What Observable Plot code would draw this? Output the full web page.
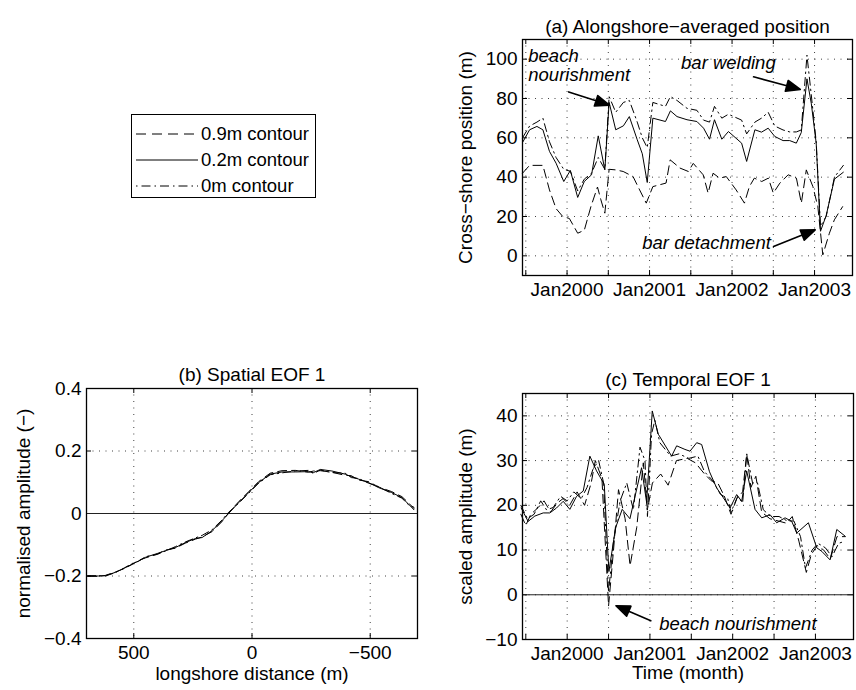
<!DOCTYPE html>
<html><head><meta charset="utf-8">
<script src="https://cdn.jsdelivr.net/npm/d3@7"></script>
<script src="https://cdn.jsdelivr.net/npm/@observablehq/plot@0.6"></script>
<style>
body{margin:0;background:#fff;}
#wrap{position:relative;width:856px;height:690px;overflow:hidden;font-family:"Liberation Sans",Arial,Helvetica,sans-serif;background:#fff;}
.panel{position:absolute;}
#legend{position:absolute;left:131px;top:114px;width:185px;height:84px;border:1.2px solid #000;box-sizing:border-box;background:#fff;}
.lrow{position:absolute;left:0;height:24px;display:flex;align-items:center;font-size:18.5px;color:#000;}
</style></head><body><div id="wrap"></div>
<script>
// ---------------- data ----------------
const seriesNames = ["0.9m contour", "0.2m contour", "0m contour"];
const seriesDash = ["9,5", null, "8,4,1.5,4"];

// (a) alongshore-averaged position: time (decimal year) and cross-shore position (m)
const a02T = [1999.46,1999.546,1999.635,1999.707,1999.787,1999.867,1999.960,2000.040,2000.129,2000.209,2000.297,2000.378,2000.458,2000.510,2000.590,2000.683,2000.755,2000.851,2000.912,2000.972,2001.040,2001.193,2001.253,2001.333,2001.454,2001.574,2001.655,2001.727,2001.787,2001.876,2001.956,2002.116,2002.177,2002.277,2002.357,2002.438,2002.518,2002.618,2002.699,2002.779,2002.839,2002.908,2002.960,2003.020,2003.072,2003.141,2003.241,2003.349];
const a02V = [57.6,64.1,65.8,64.1,53.1,47.1,37.8,43.4,29.7,37.8,41.2,61.0,43.7,78.0,64.1,66.1,70.8,59.0,51.9,37.3,70.0,68.3,73.7,70.8,69.2,68.3,64.9,59.3,69.2,59.3,63.2,57.3,48.0,64.1,62.9,64.9,60.7,58.6,58.6,57.3,62.7,90.0,77.6,57.3,12.5,20.5,39.0,42.5];
const a09T = [1999.46,1999.546,1999.707,1999.787,1999.867,1999.948,2000.028,2000.129,2000.209,2000.289,2000.369,2000.410,2000.458,2000.510,2000.590,2000.680,2000.800,2000.880,2000.960,2001.040,2001.200,2001.250,2001.370,2001.470,2001.530,2001.650,2001.710,2001.770,2001.850,2001.930,2002.050,2002.150,2002.210,2002.270,2002.360,2002.440,2002.500,2002.580,2002.680,2002.780,2002.840,2002.900,2002.980,2003.040,2003.100,2003.180,2003.240,2003.340];
const a09V = [42,46,46,33.5,24,20,19,11.5,13,25,35,28.5,21.7,44,43.7,42.9,40.3,33.5,26.8,35.2,37,48.8,44.6,42.9,47,41.2,31.9,42,39.5,40.3,33.5,26.8,35.2,39.5,37.8,39.5,31.9,37,41.2,39.5,26.8,43.7,35.2,25,0.5,11.5,18.3,25];
const a00T = [1999.46,1999.546,1999.635,1999.707,1999.787,1999.867,1999.960,2000.040,2000.129,2000.209,2000.297,2000.378,2000.458,2000.510,2000.590,2000.683,2000.755,2000.851,2000.912,2000.972,2001.040,2001.193,2001.253,2001.333,2001.454,2001.574,2001.655,2001.727,2001.787,2001.876,2001.956,2002.116,2002.177,2002.277,2002.357,2002.438,2002.518,2002.618,2002.699,2002.779,2002.839,2002.908,2002.960,2003.020,2003.072,2003.141,2003.241,2003.349];
const a00V = [60,66,68,70,58,50,44,43,33,39,42,50,44,81,73,78,79,68,60,55,78,76,81,79,75,74,69,68,76,70,72,69,62,68,70,73,66,64,63,63,64,102,82,58,15,20,40,46];

// (b) spatial EOF 1: longshore distance (m) and normalised amplitude
const b02X = [695,650,620,577,540,507,480,450,401,366,324,282,239,211,169,127,99,56,14,-28,-77,-127,-183,-239,-260,-289,-338,-394,-420,-451,-493,-535,-591,-634,-662,-685];
const b02V = [-0.200,-0.200,-0.199,-0.188,-0.175,-0.162,-0.152,-0.140,-0.128,-0.119,-0.109,-0.093,-0.080,-0.077,-0.055,-0.023,0.000,0.035,0.067,0.099,0.126,0.133,0.133,0.134,0.131,0.141,0.136,0.126,0.118,0.110,0.099,0.083,0.067,0.051,0.030,0.012];
const b09V = [-0.201,-0.201,-0.198,-0.187,-0.176,-0.163,-0.150,-0.142,-0.130,-0.117,-0.111,-0.095,-0.082,-0.075,-0.058,-0.026,0.002,0.038,0.070,0.102,0.129,0.137,0.138,0.132,0.136,0.137,0.132,0.122,0.121,0.107,0.102,0.085,0.070,0.054,0.034,0.016];
const b00V = [-0.199,-0.199,-0.200,-0.189,-0.174,-0.160,-0.153,-0.138,-0.131,-0.120,-0.106,-0.091,-0.078,-0.070,-0.052,-0.021,0.004,0.033,0.065,0.097,0.124,0.130,0.136,0.138,0.128,0.139,0.131,0.129,0.115,0.112,0.097,0.086,0.064,0.049,0.028,0.020];

// (c) temporal EOF 1: time (decimal year) and scaled amplitude (m)
const c02T = [1999.444,1999.528,1999.609,1999.710,1999.790,1999.871,1999.952,2000.032,2000.113,2000.194,2000.274,2000.355,2000.448,2000.504,2000.585,2000.665,2000.758,2000.899,2000.960,2001.028,2001.101,2001.262,2001.323,2001.423,2001.484,2001.565,2001.625,2001.720,2001.806,2001.887,2001.968,2002.048,2002.109,2002.169,2002.270,2002.351,2002.452,2002.532,2002.633,2002.714,2002.774,2002.915,2003.016,2003.077,2003.177,2003.258,2003.359];
const c02V = [19.4,16.4,17.6,18.3,18.3,19.4,20.9,19.1,22.0,23.2,31.0,27.7,24.7,5.2,15.0,19.1,17.0,28.4,20.6,41.1,35.9,31.0,33.3,32.5,32.1,34.0,33.6,27.5,23.9,21.7,19.4,22.4,20.9,27.7,19.1,17.2,17.9,16.1,17.2,16.4,13.8,16.1,10.5,9.7,7.8,14.6,13.1];
const c09T = [1999.44,1999.50,1999.56,1999.65,1999.72,1999.80,1999.88,1999.95,2000.03,2000.12,2000.21,2000.29,2000.34,2000.42,2000.50,2000.56,2000.62,2000.70,2000.76,2000.84,2000.92,2000.97,2001.03,2001.13,2001.22,2001.32,2001.45,2001.55,2001.66,2001.74,2001.82,2001.90,2001.98,2002.05,2002.12,2002.17,2002.22,2002.28,2002.35,2002.45,2002.55,2002.65,2002.72,2002.80,2002.89,2002.95,2003.02,2003.10,2003.18,2003.26,2003.36];
const c09V = [18,15.5,18,19.5,21,18.5,20.5,21.5,20,23,20,25,30,26,-2.5,10,23.5,17,6.5,15,29.5,19,25,27,24.5,30,30.5,29.5,27,25.5,25,22,18,21.5,23,31.5,24,26.5,18.5,17,16.5,16,17.5,12,5,9,11,10,8,13,13];
const c00T = [1999.44,1999.52,1999.60,1999.68,1999.75,1999.83,1999.92,2000.00,2000.08,2000.17,2000.24,2000.31,2000.38,2000.44,2000.50,2000.56,2000.64,2000.72,2000.80,2000.88,2000.94,2000.97,2001.02,2001.06,2001.12,2001.25,2001.35,2001.47,2001.58,2001.66,2001.76,2001.85,2001.94,2001.98,2002.06,2002.12,2002.17,2002.24,2002.30,2002.37,2002.46,2002.56,2002.66,2002.74,2002.82,2002.88,2002.96,2003.03,2003.12,2003.20,2003.28,2003.36];
const c00V = [20,17,18,21,19,19.5,22,21,23,21.5,24,28,30,25,0.5,12,21,25,19,33,30,17.5,36,39,34,31,31.5,30.5,31,27.5,25.5,22.5,21.5,18.5,22,20.5,31.5,25,25,19,17.5,17.5,16.5,16.5,13,6,10,11.5,10.5,8.5,11.5,12];

// axes ticks
const yearTicks = [2000, 2001, 2002, 2003];
const halfYearGrid = [1999.5, 2000, 2000.5, 2001, 2001.5, 2002, 2002.5, 2003];
const aYTicks = [0, 20, 40, 60, 80, 100];
const bXTicks = [500, 0, -500];
const bYTicks = [-0.4, -0.2, 0, 0.2, 0.4];
const cYTicks = [-10, 0, 10, 20, 30, 40];

// annotations
const aNotes = [
  {t: 1999.53, v: 101.7, text: "beach"},
  {t: 1999.53, v: 91.8, text: "nourishment"},
  {t: 2001.382, v: 98.2, text: "bar welding"},
  {t: 2000.912, v: 6.3, text: "bar detachment"}
];
const aArrows = [
  {t: 2000.513, v: 76.6, len: 42.8, rot: 108.1},
  {t: 2002.827, v: 84.6, len: 48.4, rot: 105.1},
  {t: 2003.008, v: 13.2, len: 44.9, rot: 68.2}
];
const cNotes = [{t: 2001.112, v: -6.55, text: "beach nourishment"}];
const cArrows = [{t: 2000.589, v: -2.44, len: 38, rot: -66.8}];

// ---------------- drawing ----------------
const FONT = '"Liberation Sans", Arial, Helvetica, sans-serif';
const fmtNum = d => d < 0 ? "\u2212" + Math.abs(d) : String(d);
const zip = (xs, ys) => xs.map((x, i) => ({x, y: ys[i]}));

const arrowShape = {
  draw(ctx, l) {
    const h = 14, w = 5.5;
    ctx.moveTo(0, 0); ctx.lineTo(0, -l + h);
    ctx.moveTo(0, -l); ctx.lineTo(-w, -l + h); ctx.lineTo(w, -l + h); ctx.closePath();
  }
};

function seriesMarks(list) {
  return list.map((data, i) => Plot.line(data, {
    x: "x", y: "y", stroke: "#000", strokeWidth: 1,
    strokeDasharray: seriesDash[i] || undefined
  }));
}

function arrowMarks(list) {
  return list.map(a => Plot.vector([a], {
    x: "t", y: "v", length: a.len, rotate: a.rot, anchor: "end",
    shape: arrowShape, stroke: "#000", fill: "#000", strokeWidth: 1.6
  }));
}

function panel(o) {
  const fw = o.width - o.ml - o.mr, fh = o.height - o.mt - o.mb;
  const gridStyle = {stroke: "#000", strokeOpacity: 0.75, strokeWidth: 1, strokeDasharray: "1,5.5"};
  const marks = [
    Plot.gridX(o.xGrid, gridStyle),
    Plot.gridY(o.yTicks, gridStyle),
    Plot.tickX(o.xGrid, {x: d => d, insetTop: fh - 5, stroke: "#000"}),
    Plot.tickX(o.xGrid, {x: d => d, insetBottom: fh - 5, stroke: "#000"}),
    Plot.tickY(o.yTicks, {y: d => d, insetRight: fw - 5, stroke: "#000"}),
    Plot.tickY(o.yTicks, {y: d => d, insetLeft: fw - 5, stroke: "#000"}),
    ...(o.zeroLine ? [Plot.ruleY([0], {stroke: "#222", strokeWidth: 1})] : []),
    ...seriesMarks(o.series),
    ...(o.notes ? [Plot.text(o.notes, {x: "t", y: "v", text: "text", textAnchor: "start", fontStyle: "italic", fontSize: 18.5, fill: "#000"})] : []),
    ...(o.arrows ? arrowMarks(o.arrows) : []),
    Plot.axisX({ticks: o.xTicks, tickSize: 0, tickPadding: 7, tickFormat: o.xFormat, label: null, fontSize: 19}),
    Plot.axisY({ticks: o.yTicks, tickSize: 0, tickPadding: 5, tickFormat: fmtNum, label: null, fontSize: 19}),
    Plot.frame({stroke: "#000", strokeWidth: 1.3}),
    Plot.text([o.title], {frameAnchor: "top", dy: o.titleDy, fontSize: 19, fill: "#000"}),
    Plot.text([o.yLabel], {frameAnchor: "left", textAnchor: "middle", rotate: -90, dx: o.yLabelDx, fontSize: 19, fill: "#000"}),
    ...(o.xLabel ? [Plot.text([o.xLabel], {frameAnchor: "bottom", textAnchor: "middle", dy: o.xLabelDy, fontSize: 19, fill: "#000"})] : [])
  ];
  const svg = Plot.plot({
    width: o.width, height: o.height,
    marginLeft: o.ml, marginRight: o.mr, marginTop: o.mt, marginBottom: o.mb,
    x: {domain: o.xDomain}, y: {domain: o.yDomain},
    style: {fontFamily: FONT, fontSize: "19px", background: "transparent", overflow: "visible", color: "#000"},
    marks
  });
  const div = document.createElement("div");
  div.className = "panel";
  div.style.left = o.left + "px"; div.style.top = o.top + "px";
  div.appendChild(svg);
  document.getElementById("wrap").appendChild(div);
}

const yearFmt = d => "Jan" + d;

panel({
  left: 430, top: 0, width: 426, height: 320, ml: 92, mr: 4, mt: 39, mb: 45,
  xDomain: [1999.46, 2003.46], yDomain: [-10, 110],
  xTicks: yearTicks, xGrid: halfYearGrid, xFormat: yearFmt, yTicks: aYTicks,
  series: [zip(a09T, a09V), zip(a02T, a02V), zip(a00T, a00V)],
  notes: aNotes, arrows: aArrows,
  title: "(a) Alongshore\u2212averaged position", titleDy: -20,
  yLabel: "Cross\u2212shore position (m)", yLabelDx: -57
});

panel({
  left: 0, top: 330, width: 430, height: 360, ml: 86, mr: 13, mt: 58, mb: 52,
  xDomain: [700, -700], yDomain: [-0.4, 0.4],
  xTicks: bXTicks, xGrid: bXTicks, xFormat: fmtNum, yTicks: bYTicks,
  series: [zip(b02X, b09V), zip(b02X, b02V), zip(b02X, b00V)],
  zeroLine: true,
  title: "(b) Spatial EOF 1", titleDy: -21,
  yLabel: "normalised amplitude (\u2212)", yLabelDx: -63,
  xLabel: "longshore distance (m)", xLabelDy: 41
});

panel({
  left: 430, top: 330, width: 426, height: 360, ml: 92, mr: 3, mt: 63, mb: 51,
  xDomain: [1999.46, 2003.46], yDomain: [-10, 45],
  xTicks: yearTicks, xGrid: halfYearGrid, xFormat: yearFmt, yTicks: cYTicks,
  series: [zip(c09T, c09V), zip(c02T, c02V), zip(c00T, c00V)],
  zeroLine: true, notes: cNotes, arrows: cArrows,
  title: "(c) Temporal EOF 1", titleDy: -21,
  yLabel: "scaled amplitude (m)", yLabelDx: -57,
  xLabel: "Time (month)", xLabelDy: 39
});

// legend
const legend = document.createElement("div");
legend.id = "legend";
seriesNames.forEach((name, i) => {
  const row = document.createElement("div");
  row.className = "lrow";
  row.style.top = (7 + i * 26) + "px";
  const ns = "http://www.w3.org/2000/svg";
  const s = document.createElementNS(ns, "svg");
  s.setAttribute("width", "68"); s.setAttribute("height", "24");
  const ln = document.createElementNS(ns, "line");
  ln.setAttribute("x1", "4"); ln.setAttribute("x2", "66");
  ln.setAttribute("y1", "12"); ln.setAttribute("y2", "12");
  ln.setAttribute("stroke", "#000"); ln.setAttribute("stroke-width", "1");
  if (seriesDash[i]) ln.setAttribute("stroke-dasharray", i === 0 ? "10,6" : "1.5,4,9,4");
  s.appendChild(ln);
  row.appendChild(s);
  const tx = document.createElement("span");
  tx.textContent = name;
  tx.style.marginLeft = "1px";
  row.appendChild(tx);
  legend.appendChild(row);
});
document.getElementById("wrap").appendChild(legend);
</script></body></html>
